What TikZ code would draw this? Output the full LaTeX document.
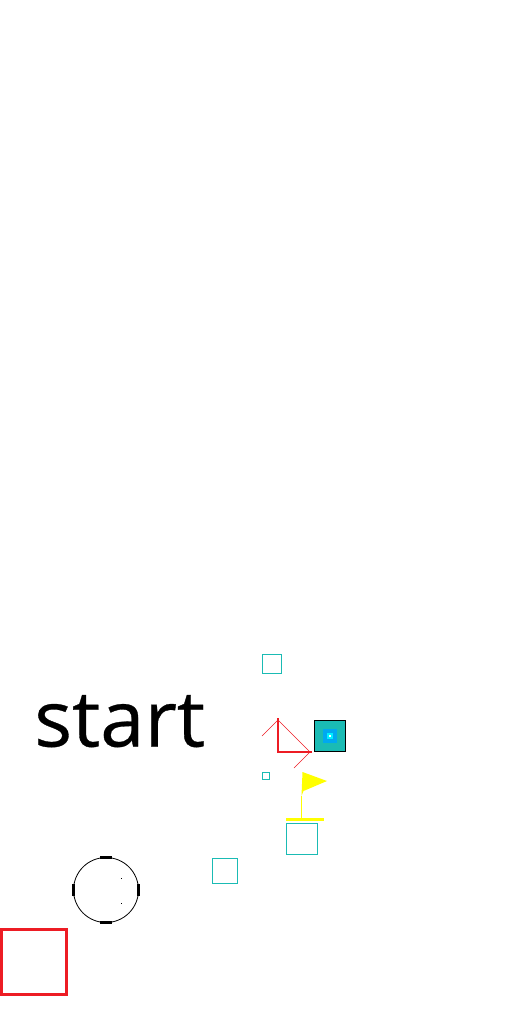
\documentclass[tikz,border=0pt]{standalone}
\usepackage{fontspec}
\setmainfont{Open Sans}
\definecolor{tealbox}{HTML}{1ABBB4}
\definecolor{redbox}{HTML}{ED1C24}
\definecolor{bluebox}{HTML}{00A8F0}
\definecolor{cyanbox}{HTML}{00F0FF}
\definecolor{flagyellow}{HTML}{FFFF00}
\tikzset{
  tealsquare/.style={draw=tealbox,line width=1pt,inner sep=0pt,minimum size=#1},
  plainsquare/.style={inner sep=0pt,minimum size=#1},
  ticktop/.style={fill=black,inner sep=0pt,minimum width=12pt,minimum height=3pt},
  tickside/.style={fill=black,inner sep=0pt,minimum width=3pt,minimum height=12pt},
  speck/.style={fill=black,inner sep=0pt,minimum size=1pt},
  thinred/.style={redbox,line width=0.6pt},
  thickred/.style={redbox,line width=2pt}
}
\begin{document}
\begin{tikzpicture}[x=1pt,y=-1pt]
\def\w{1pt}

\useasboundingbox (0,0) rectangle (512,1024);

\node [inner sep=0pt,anchor=base west,xscale=1.02,font=\fontsize{78}{78}\selectfont\addfontfeatures{FakeBold=0.4}, name=word] at (34,746.5) {start};

\node [tealsquare=19pt, name=s1] at (272,664) {};
\node [tealsquare=7pt, name=s2] at (266,776) {};
\node [tealsquare=31pt, name=s3] at (302,839) {};
\node [tealsquare=25pt, name=s4] at (225,871) {};

% filled square
\node [draw=black,fill=tealbox,line width=\w,inner sep=0pt,minimum size=31pt, name=b1] at (330,736) {};
\node [plainsquare=14pt,fill=bluebox, name=b2] at (330,736) {};
\node [plainsquare=6pt,fill=cyanbox, name=b3] at (330,736) {};
\node [plainsquare=2pt,fill=white, name=b4] at (330,736) {};

% triangle
\coordinate (t1) at (278,718);
\coordinate (t2) at (278,752);
\coordinate (t3) at (312,752);
\coordinate (t4) at (278,720);
\coordinate (t5) at (310,752);
\coordinate (t6) at (262,736);
\coordinate (t7) at (294,768);
\draw [thickred] (t1) -- (t2) -- (t3);
\draw [thinred] (t6) -- (t4) -- (t5) -- (t7);

% flag
\coordinate (f1) at (301.5,818);
\coordinate (f2) at (301.5,796);
\coordinate (f3) at (302.5,772);
\coordinate (f4) at (327,781);
\coordinate (f5) at (286,819.5);
\coordinate (f6) at (324,819.5);
\coordinate (f7) at (303.5,791);
\draw [flagyellow,line width=1pt] (f1) -- (f2);
\fill [flagyellow] (f2) -- (f3) -- (f4) -- (f7) -- cycle;
\draw [flagyellow,line width=3pt] (f5) -- (f6);

% circle
\node [draw=black,circle,line width=0.8pt,inner sep=0pt,minimum size=65pt, name=c1] at (106,890) {};
\node [ticktop, name=c2] at (106,857.5) {};
\node [ticktop, name=c3] at (106,922.5) {};
\node [tickside, name=c4] at (73.5,890) {};
\node [tickside, name=c5] at (138.5,890) {};
\node [speck, name=c6] at (121.5,878.5) {};
\node [speck, name=c7] at (121.5,903.5) {};

\node [draw=redbox,line width=3pt,inner sep=0pt,minimum size=65pt, name=r1] at (34,962) {};
\end{tikzpicture}
\end{document}
